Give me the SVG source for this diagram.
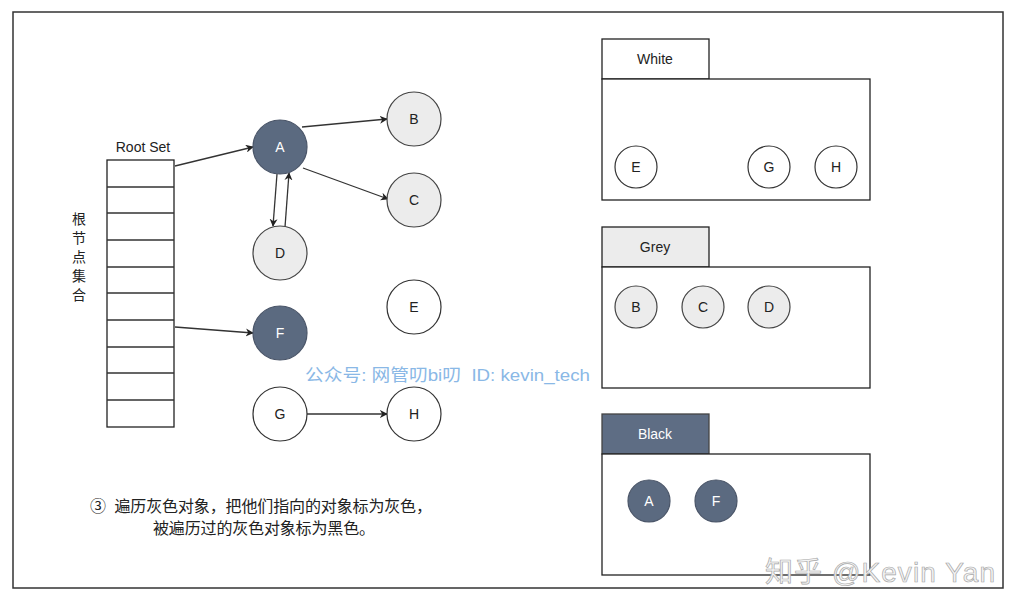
<svg xmlns="http://www.w3.org/2000/svg" width="1024" height="612" viewBox="0 0 1024 612">
<style>
text{font-family:"Liberation Sans","Noto Sans CJK SC",sans-serif;}
.lbl{font-size:14px;text-anchor:middle;dominant-baseline:central;fill:#222;}
.wl{fill:#fff;}
.blk{fill:#5b6a80;stroke:#4a5568;stroke-width:1.2;}
.gry{fill:#ececec;stroke:#444;stroke-width:1.2;}
.wht{fill:#fff;stroke:#333;stroke-width:1.2;}
.edge{stroke:#333;stroke-width:1.3;fill:none;marker-end:url(#ah);}
.panel{fill:#fff;stroke:#222;stroke-width:1.3;}
.cn{font-size:14px;fill:#222;}
</style>
<defs>
<marker id="ah" viewBox="0 0 10 10" refX="9" refY="5" markerWidth="8" markerHeight="8" orient="auto" markerUnits="userSpaceOnUse">
<path d="M0,0 L10,5 L0,10 L3,5 Z" fill="#222"/>
</marker>
</defs>
<rect x="0" y="0" width="1024" height="612" fill="#fff"/>
<rect x="13" y="12" width="990" height="576" fill="none" stroke="#333" stroke-width="1.5"/>

<g id="rootset">
<text x="143" y="147" class="lbl">Root Set</text>
<rect x="107" y="160" width="67" height="267" fill="#fff" stroke="#222" stroke-width="1.3"/>
<path d="M107,187H174M107,213H174M107,240H174M107,267H174M107,293H174M107,320H174M107,347H174M107,373H174M107,400H174" stroke="#333" stroke-width="1.3"/>
</g>
<g id="rootlabel" class="cn">
<text x="79" y="219" text-anchor="middle" dominant-baseline="central" font-size="14">根</text>
<text x="79" y="238" text-anchor="middle" dominant-baseline="central" font-size="14">节</text>
<text x="79" y="257" text-anchor="middle" dominant-baseline="central" font-size="14">点</text>
<text x="79" y="276" text-anchor="middle" dominant-baseline="central" font-size="14">集</text>
<text x="79" y="295" text-anchor="middle" dominant-baseline="central" font-size="14">合</text>
</g>

<g id="connectors">
<line x1="175" y1="166" x2="253" y2="147" class="edge"/>
<line x1="175" y1="327" x2="253" y2="333" class="edge"/>
<line x1="302" y1="127" x2="387" y2="119" class="edge"/>
<line x1="303" y1="168" x2="388" y2="199" class="edge"/>
<line x1="277" y1="174" x2="273" y2="226" class="edge"/>
<line x1="285" y1="227" x2="289" y2="173" class="edge"/>
<line x1="307" y1="414" x2="387" y2="414" class="edge"/>
</g>

<g id="nA"><circle cx="280" cy="147" r="27" class="blk"/><text x="280" y="147" class="lbl wl">A</text></g>
<g id="nB"><circle cx="414" cy="119" r="27" class="gry"/><text x="414" y="119" class="lbl">B</text></g>
<g id="nC"><circle cx="414" cy="200" r="27" class="gry"/><text x="414" y="200" class="lbl">C</text></g>
<g id="nD"><circle cx="280" cy="253" r="27" class="gry"/><text x="280" y="253" class="lbl">D</text></g>
<g id="nE"><circle cx="414" cy="307" r="27" class="wht"/><text x="414" y="307" class="lbl">E</text></g>
<g id="nF"><circle cx="280" cy="333" r="27" class="blk"/><text x="280" y="333" class="lbl wl">F</text></g>
<g id="nG"><circle cx="280" cy="414" r="27" class="wht"/><text x="280" y="414" class="lbl">G</text></g>
<g id="nH"><circle cx="414" cy="414" r="27" class="wht"/><text x="414" y="414" class="lbl">H</text></g>

<text x="305" y="375" font-size="17" fill="#8ab8e6" dominant-baseline="central" textLength="285" lengthAdjust="spacingAndGlyphs" xml:space="preserve">公众号: 网管叨bi叨  ID: kevin_tech</text>

<g id="caption" class="cn">
<text x="90" y="506" font-size="16" dominant-baseline="central" textLength="342" lengthAdjust="spacing" xml:space="preserve">③  遍历灰色对象，把他们指向的对象标为灰色，</text>
<text x="153" y="528" font-size="16" dominant-baseline="central" textLength="222" lengthAdjust="spacing">被遍历过的灰色对象标为黑色。</text>
</g>

<g id="white">
<rect x="602" y="39" width="107" height="40" class="panel"/>
<text x="655" y="59" class="lbl">White</text>
<rect x="602" y="79" width="268" height="121" class="panel"/>
<circle cx="636" cy="167" r="21" class="wht"/><text x="636" y="167" class="lbl">E</text>
<circle cx="769" cy="167" r="21" class="wht"/><text x="769" y="167" class="lbl">G</text>
<circle cx="836" cy="167" r="21" class="wht"/><text x="836" y="167" class="lbl">H</text>
</g>
<g id="grey">
<rect x="602" y="227" width="107" height="40" style="fill:#ececec;stroke:#222;stroke-width:1.3"/>
<text x="655" y="247" class="lbl">Grey</text>
<rect x="602" y="267" width="268" height="121" class="panel"/>
<circle cx="636" cy="307" r="21" class="gry"/><text x="636" y="307" class="lbl">B</text>
<circle cx="703" cy="307" r="21" class="gry"/><text x="703" y="307" class="lbl">C</text>
<circle cx="769" cy="307" r="21" class="gry"/><text x="769" y="307" class="lbl">D</text>
</g>
<g id="black">
<rect x="602" y="414" width="107" height="40" style="fill:#5e6d84;stroke:#444;stroke-width:1.3"/>
<text x="655" y="434" class="lbl wl">Black</text>
<rect x="602" y="454" width="268" height="121" class="panel"/>
<circle cx="649" cy="501" r="21" class="blk"/><text x="649" y="501" class="lbl wl">A</text>
<circle cx="716" cy="501" r="21" class="blk"/><text x="716" y="501" class="lbl wl">F</text>
</g>

<text x="765" y="582" font-size="28" fill="#f4f4f4" stroke="#a8a8a8" stroke-width="0.7" textLength="230" lengthAdjust="spacing" font-family="'Noto Sans CJK SC',sans-serif">知乎 @Kevin Yan</text>
</svg>
